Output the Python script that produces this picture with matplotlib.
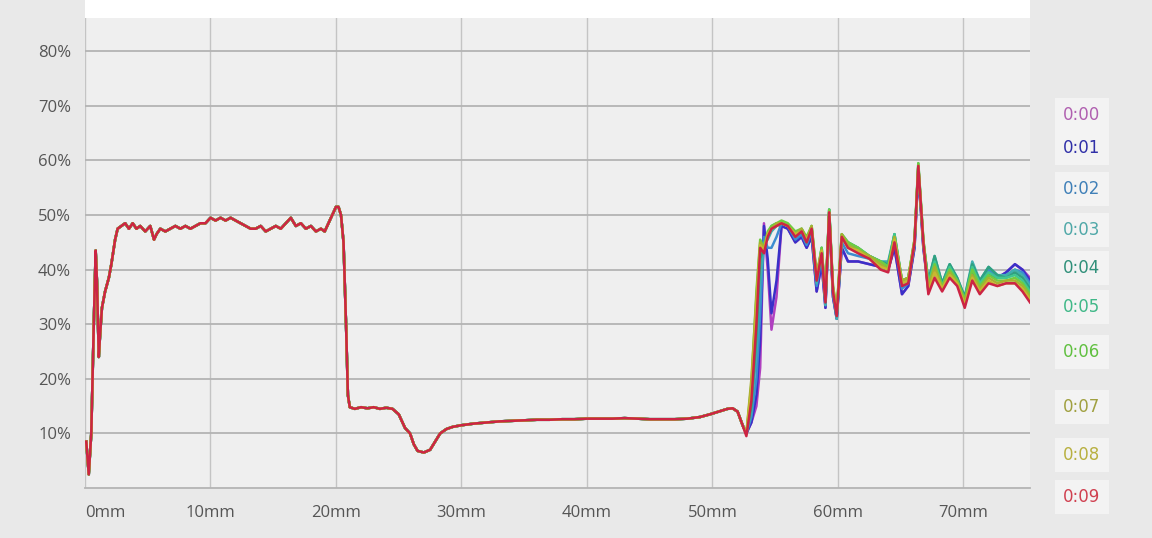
import matplotlib.pyplot as plt
from matplotlib.patches import Rectangle

plt.rcParams['font.family'] = ['Open Sans', 'DejaVu Sans']

# series names and colours (legend on the right)
names = ['0:00', '0:01', '0:02', '0:03', '0:04', '0:05', '0:06', '0:07', '0:08', '0:09']
line_colors = ['#b040c0', '#3a30c8', '#3c8cd0', '#40b0b0', '#30a080',
               '#40c890', '#70cc40', '#a8b030', '#c8b830', '#cc2444']
text_colors = ['#b060b0', '#3030a8', '#4080b8', '#50a8a8', '#30907a',
               '#40b888', '#60c040', '#a0a040', '#b8b040', '#d04050']

# shared part of all curves (0 .. 52.4 mm), values in %
base_x = [0.1, 0.3, 0.5, 0.7, 0.85, 0.95, 1.1, 1.2, 1.35, 1.6, 1.9, 2.1, 2.4, 2.6, 2.9,
          3.2, 3.5, 3.8, 4.1, 4.4, 4.8, 5.2, 5.5, 5.7, 6.0, 6.4, 6.8, 7.2, 7.6, 8.0,
          8.4, 8.8, 9.2, 9.6, 10.0, 10.4, 10.8, 11.2, 11.6, 12.0, 12.4, 12.8, 13.2, 13.6,
          14.0, 14.4, 14.8, 15.2, 15.6, 16.0, 16.4, 16.8, 17.2, 17.6, 18.0, 18.4, 18.8,
          19.1, 19.4, 19.7, 20.0, 20.2, 20.4, 20.6, 20.8, 20.95, 21.1, 21.5, 22.0, 22.5,
          23.0, 23.5, 24.0, 24.5, 25.0, 25.5, 25.9, 26.2, 26.5, 27.0, 27.5, 27.9, 28.3,
          28.8, 29.3, 30.0, 31.0, 32.0, 33.0, 34.0, 35.0, 36.0, 37.0, 38.0, 39.0, 40.0,
          41.0, 42.0, 43.0, 44.0, 45.0, 46.0, 47.0, 48.0, 49.0, 49.8, 50.5, 51.2, 51.6,
          52.0, 52.4]
base_y = [8.5, 2.5, 10, 30, 43.5, 38, 24, 28, 33, 36, 38.5, 41, 45.5, 47.5, 48,
          48.5, 47.5, 48.5, 47.5, 48, 47, 48, 45.5, 46.5, 47.5, 47, 47.5, 48, 47.5, 48,
          47.5, 48, 48.5, 48.5, 49.5, 49, 49.5, 49, 49.5, 49, 48.5, 48, 47.5, 47.5,
          48, 47, 47.5, 48, 47.5, 48.5, 49.5, 48, 48.5, 47.5, 48, 47, 47.5,
          47, 48.5, 50, 51.5, 51.5, 50, 45, 30, 17, 14.8, 14.5, 14.8, 14.6,
          14.8, 14.5, 14.7, 14.5, 13.5, 11, 10, 8, 6.8, 6.5, 7, 8.5, 10,
          10.8, 11.2, 11.5, 11.8, 12, 12.2, 12.3, 12.4, 12.5, 12.5, 12.6, 12.6, 12.7,
          12.7, 12.7, 12.8, 12.7, 12.6, 12.6, 12.6, 12.7, 13, 13.5, 14, 14.5, 14.6,
          14, 11.5]

# diverging tail (52.7 .. 75.3 mm)
tail_x = [52.7, 53.1, 53.5, 53.8, 54.1, 54.4, 54.7, 55.1, 55.5, 56.0, 56.6, 57.1, 57.5,
          57.9, 58.3, 58.7, 59.0, 59.3, 59.6, 59.9, 60.3, 60.8, 61.6, 62.5, 63.4, 64.0,
          64.5, 65.1, 65.6, 66.1, 66.4, 66.8, 67.2, 67.7, 68.3, 68.9, 69.5, 70.1, 70.7,
          71.3, 72.0, 72.7, 73.4, 74.1, 74.7, 75.3]
tail_00 = [10, 12, 15, 22, 48.5, 40, 29, 35, 48, 47.5, 45, 46, 44, 46, 36, 41, 33, 50, 35, 31,
           44, 41.5, 41.5, 41, 40.5, 40, 44, 35.5, 37, 44, 58, 44, 36, 39.5, 37, 39.5, 37.5, 34,
           39, 37, 39, 38.5, 39.5, 41, 40, 38.5]
tail_01 = [10, 12, 17, 27, 48, 42, 32, 38, 48, 47.5, 45, 46, 44, 46, 36, 41, 33, 50, 35, 31,
           44, 41.5, 41.5, 41, 40.5, 40, 44, 35.5, 37, 44, 58, 44, 36.5, 40, 37, 39.5, 37.5, 34,
           39.5, 37, 39, 38.5, 39.5, 41, 40, 38]
tail_02 = [10, 13, 20, 32, 46, 44, 44, 46, 48.5, 48, 45.5, 46.5, 44.5, 47, 37, 42.5, 33.5, 50.5,
           35.5, 31, 45, 43, 42.5, 42, 41, 40.5, 45.5, 36.5, 37.5, 44.5, 58.5, 44.5, 37.5, 41.5,
           37.5, 40.5, 38, 34.5, 40.5, 37.5, 40, 38.5, 39, 40, 39.5, 37.5]
tail_03 = [10, 14, 25, 38, 45, 45.5, 47, 48, 48.5, 48, 46, 47, 45, 47.5, 37.5, 43.5, 33.5, 51,
           36, 31, 45.5, 44.5, 43.5, 42.5, 41.5, 41.5, 46.5, 37.5, 38, 45, 59, 45, 38, 42.5,
           37.5, 41, 38.5, 35, 41.5, 38, 40.5, 39, 39, 40, 39, 37]
tail_04 = [10, 15, 28, 42, 44, 46, 47.5, 48, 48.5, 48, 46.5, 47, 45, 47.5, 38, 44, 34, 51,
           36, 31.5, 46, 45, 44, 42.5, 41.5, 41, 46.5, 38, 38.5, 45, 59, 45, 38, 42.5,
           37.5, 41, 38.5, 35, 41, 38, 40.5, 39, 38.5, 39.5, 38.5, 36.5]
tail_05 = [10, 17, 33, 44, 43.5, 46.5, 48, 48.5, 48.5, 48, 46.5, 47.5, 45.5, 48, 38.5, 44, 34.5,
           51, 36.5, 32, 46.5, 45, 44, 42.5, 41.5, 40.5, 46.5, 38, 38.5, 45.5, 59.5, 45.5, 37.5,
           41.5, 37, 40.5, 38, 34.5, 40.5, 37.5, 39.5, 38.5, 38.5, 39, 38, 36]
tail_06 = [10, 19, 36, 45.5, 44, 47, 48, 48.5, 49, 48.5, 47, 47.5, 46, 48, 39, 44, 35, 51,
           37, 32.5, 46.5, 45, 44, 42.5, 41.5, 40.5, 46, 38, 38.5, 45.5, 59.5, 45.5, 37, 41,
           37, 40, 38, 34.5, 40, 37, 39, 38, 38, 38.5, 37.5, 35.5]
tail_07 = [10, 20, 35, 45, 44, 46.5, 47.5, 48.5, 48.5, 48, 46.5, 47.5, 45.5, 48, 39, 43.5, 35,
           50.5, 37, 32.5, 46.5, 44.5, 43.5, 42.5, 41, 40, 46, 38, 38.5, 45.5, 59, 45.5, 36.5, 40.5,
           36.5, 39.5, 37.5, 34, 39, 36.5, 38.5, 37.5, 38, 38, 37, 35]
tail_08 = [9.8, 18, 33, 44.5, 43.5, 46.5, 47.5, 48, 48.5, 48, 46.5, 47, 45.5, 47.5, 38.5, 43.5,
           34.5, 50.5, 36.5, 32, 46, 44, 43.5, 42, 40.5, 40, 45.5, 37.5, 38, 45, 59, 45, 36,
           39.5, 36.5, 39, 37.5, 33.5, 38.5, 36, 38, 37, 37.5, 37.5, 36.5, 34.5]
tail_09 = [9.5, 16, 30, 44, 43, 46, 47.5, 48, 48.5, 48, 46, 47, 45, 47.5, 38, 43, 34, 50.5,
           36, 31.5, 46, 44, 43, 42, 40, 39.5, 45, 37, 37.5, 45, 59, 45, 35.5, 38.5, 36, 38.5,
           37, 33, 38, 35.5, 37.5, 37, 37.5, 37.5, 36, 34]
tails = [tail_00, tail_01, tail_02, tail_03, tail_04, tail_05, tail_06, tail_07, tail_08, tail_09]

x_ticks = [0, 10, 20, 30, 40, 50, 60, 70]
y_ticks = [10, 20, 30, 40, 50, 60, 70, 80]

W, H = 1152, 538
fig = plt.figure(figsize=(W / 100, H / 100), dpi=100, facecolor='#e9e9e9')
ax = fig.add_axes([85 / W, 50 / H, 945 / W, 470 / H])
ax.set_facecolor('#efefef')

for name, col, tail in zip(names, line_colors, tails):
    ax.plot(base_x + tail_x, base_y + tail, color=col, lw=1.8, label=name)

ax.set_xlim(0, 75.3)
ax.set_ylim(0, 86.1)
ax.set_xticks(x_ticks)
ax.set_xticklabels([f'{v}mm' for v in x_ticks])
ax.set_yticks(y_ticks)
ax.set_yticklabels([f'{v}%' for v in y_ticks])
ax.get_xticklabels()[0].set_horizontalalignment('left')
ax.tick_params(length=0, labelsize=12, labelcolor='#555555')
ax.tick_params(axis='x', pad=12)
ax.tick_params(axis='y', pad=10)
ax.grid(axis='y', color='#b4b4b4', lw=1.3)
ax.grid(axis='x', color='#c4c4c4', lw=1.0)
ax.set_axisbelow(True)
for s in ['top', 'right', 'left']:
    ax.spines[s].set_visible(False)
ax.spines['bottom'].set_color('#b4b4b4')
ax.spines['bottom'].set_linewidth(1.3)

# white strip above the plot
fig.add_artist(Rectangle((85 / W, 520 / H), 945 / W, 18 / H, transform=fig.transFigure,
                         facecolor='white', edgecolor='none'))

# legend as coloured labels on the right
legend_y = [115, 148, 189, 230, 268, 307, 352, 407, 455, 497]
for name, col, ly in zip(names, text_colors, legend_y):
    fig.text(1082 / W, 1 - ly / H, name, color=col, fontsize=12, ha='center', va='center',
             family='DejaVu Sans',
             bbox=dict(facecolor='#f3f3f3', edgecolor='none', pad=6))

fig.savefig('out.png', dpi=100, facecolor=fig.get_facecolor())
